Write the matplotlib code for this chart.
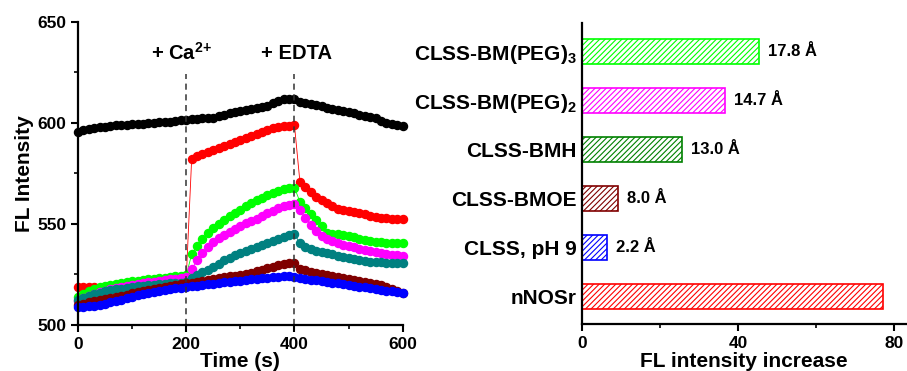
import matplotlib
matplotlib.use("Agg")
import matplotlib.pyplot as plt
from matplotlib.ticker import MultipleLocator

plt.rcParams["font.family"] = ["Liberation Sans", "DejaVu Sans"]
plt.rcParams["font.weight"] = "bold"
plt.rcParams["mathtext.fontset"] = "custom"
plt.rcParams["mathtext.rm"] = "Liberation Sans:bold"
plt.rcParams["mathtext.bf"] = "Liberation Sans:bold"
plt.rcParams["mathtext.default"] = "rm"
plt.rcParams["hatch.linewidth"] = 0.8

# --- time course data (FL intensity, sampled every 10 s) ---
time_s = [0, 10, 20, 30, 40, 50, 60, 70, 80, 90, 100, 110, 120, 130, 140, 150, 160, 170, 180, 190, 200,
          210, 220, 230, 240, 250, 260, 270, 280, 290, 300, 310, 320, 330, 340, 350, 360, 370, 380, 390, 400,
          410, 420, 430, 440, 450, 460, 470, 480, 490, 500, 510, 520, 530, 540, 550, 560, 570, 580, 590, 600]

fl_black = [595.5, 596.5, 597, 597.5, 598, 598.2, 598.5, 598.8, 599, 599.2, 599.3, 599.5, 599.7, 600, 600.1,
            600.3, 600.5, 600.7, 601, 601.2, 601.4,
            601.8, 602, 602.2, 602.3, 602.6, 603.2, 604, 604.8, 605.5, 605.8, 606.2, 606.8, 607.3, 608, 608.6,
            609.8, 611, 611.6, 611.8, 611.6,
            610.5, 609.8, 609.2, 608.8, 608.2, 607.5, 606.8, 606.2, 605.8, 605.5, 604.8, 604, 603.2, 602.8,
            602.5, 601, 599.8, 599.3, 598.8, 598.3]
fl_red = [519, 519, 519, 518.8, 518.5, 518.5, 519, 519.3, 519.6, 520, 520.2, 520.5, 520.8, 521, 521.3, 521.6,
          522, 522.2, 522.5, 522.8, 523,
          582, 583.5, 584.5, 585.5, 586.5, 587.5, 588.5, 589.5, 590.5, 591.5, 592.5, 593.5, 594.5, 595.5, 596.5,
          597.5, 598.2, 598.5, 598.7, 598.8,
          571, 568.5, 566, 563.5, 562, 560.5, 558.8, 557.5, 557, 556.5, 556, 555.5, 554.8, 554, 553.5, 553,
          552.8, 552.6, 552.5, 552.4]
fl_green = [514, 515.5, 516.8, 517.8, 518.6, 519.3, 519.8, 520.3, 520.8, 521.2, 521.6, 522, 522.3, 522.6, 522.9,
            523.2, 523.5, 523.8, 524, 524.2, 524.5,
            535, 539, 542.5, 545.5, 548, 550, 552, 553.8, 555.5, 557, 558.8, 560.3, 561.7, 563, 564.3, 565.3,
            566.3, 567.2, 567.8, 568,
            561, 558, 555, 552, 549, 545.5, 545.2, 545, 544.5, 544, 543.3, 542.7, 542, 541.5, 541.2, 541,
            540.8, 540.6, 540.5, 540.5]
fl_magenta = [512, 513.5, 514.5, 515.5, 516.3, 517, 517.7, 518.3, 518.8, 519.3, 519.8, 520.3, 520.7, 521.1,
              521.5, 521.9, 522.3, 522.7, 523, 523.4, 523.8,
              527.5, 532, 535.5, 538.5, 541, 543, 544.5, 546, 547.5, 549, 550.3, 551.5, 552.7, 554, 555.2,
              556.5, 557.7, 558.8, 559.6, 560,
              557, 553, 549.5, 546.5, 544, 542.5, 541.5, 540.5, 539.7, 539, 538.4, 537.8, 537.2, 536.7, 536.3,
              535.8, 535.3, 534.8, 534.4, 534]
fl_teal = [512.5, 513.5, 514.5, 515.3, 516, 516.6, 517.1, 517.6, 518, 518.4, 518.8, 519.1, 519.4, 519.7, 520,
           520.2, 520.4, 520.6, 520.8, 521, 521.2,
           523.5, 524.8, 526, 527.3, 528.6, 530.2, 532, 533.3, 534.5, 535.8, 536.8, 537.8, 538.7, 539.6, 540.5,
           541.5, 542.5, 543.5, 544.3, 545,
           540.5, 538.5, 537.5, 536.8, 536, 535.5, 535, 534.2, 533.5, 533, 532.5, 532, 531.7, 531.4, 531.2, 531,
           530.9, 530.8, 530.7, 530.6]
fl_maroon = [510, 510.5, 511.2, 511.8, 512.3, 512.7, 513.3, 513.9, 514.5, 515, 515.6, 516.1, 516.6, 517.1,
             517.6, 518.1, 518.6, 519.1, 519.6, 520.1, 520.6,
             521, 521.5, 522, 522.5, 523, 523.3, 523.6, 524, 524.4, 524.8, 525.3, 525.9, 526.5, 527.2, 528,
             528.8, 529.6, 530.3, 530.6, 530.5,
             527.6, 527, 526.3, 525.6, 525, 524.6, 524.2, 523.7, 523.2, 522.8, 522.3, 521.8, 521.3, 520.8,
             520.2, 519.7, 519, 518, 517, 516]
fl_blue = [508.8, 509, 509.3, 509.6, 510, 510.5, 511.2, 511.9, 512.6, 513.3, 514, 514.7, 515.3, 515.9, 516.4,
           516.9, 517.3, 517.7, 518.1, 518.5, 518.8,
           519.2, 519.5, 519.8, 520.1, 520.5, 520.8, 521.1, 521.4, 521.7, 522, 522.3, 522.6, 522.9, 523.2,
           523.5, 523.7, 523.9, 524, 524, 523.9,
           523.2, 522.8, 522.5, 522.1, 521.8, 521.4, 521, 520.6, 520.2, 519.8, 519.4, 519, 518.6, 518.2, 517.8,
           517.4, 517, 516.6, 516.2, 515.8]

# --- bar data ---
constructs = ["nNOSr", "CLSS, pH 9", "CLSS-BMOE", "CLSS-BMH",
              r"CLSS-BM(PEG)$_{\mathrm{2}}$", r"CLSS-BM(PEG)$_{\mathrm{3}}$"]
fl_increase = [77.2, 6.3, 9.2, 25.6, 36.7, 45.4]
crosslink_len = [None, "2.2 Å", "8.0 Å", "13.0 Å", "14.7 Å", "17.8 Å"]
bar_colors = ["#ff0000", "#0000ff", "#800000", "#008000", "#ff00ff", "#00ff00"]

fig = plt.figure(figsize=(9.07, 3.71), dpi=100)

# ---------- left panel: time course ----------
ax1 = fig.add_axes([0.086, 0.124, 0.358, 0.817])
series = [(fl_black, "black"), (fl_red, "#ff0000"), (fl_green, "#00ff00"), (fl_magenta, "#ff00ff"),
          (fl_teal, "#008080"), (fl_maroon, "#800000"), (fl_blue, "#0000ff")]
for vals, col in series:
    ax1.plot(time_s, vals, color=col, lw=0.6, marker="o", ms=5.8, mec=col, mfc=col, clip_on=False)

for xv in (200, 400):
    ax1.plot([xv, xv], [500, 624], ls=(0, (4, 3)), color="#333333", lw=1.1)
ax1.text(192, 634.5, r"+ Ca$^{2{+}}$", ha="center", va="center", fontsize=14.5, fontweight="bold")
ax1.text(404, 634.5, "+ EDTA", ha="center", va="center", fontsize=14.5, fontweight="bold")

ax1.set_xlim(0, 600)
ax1.set_ylim(500, 650)
ax1.xaxis.set_major_locator(MultipleLocator(200))
ax1.xaxis.set_minor_locator(MultipleLocator(100))
ax1.yaxis.set_major_locator(MultipleLocator(50))
ax1.yaxis.set_minor_locator(MultipleLocator(25))
ax1.set_xlabel("Time (s)", fontsize=15, fontweight="bold", labelpad=0)
ax1.set_ylabel("FL Intensity", fontsize=15, fontweight="bold", labelpad=2)

# ---------- right panel: bars ----------
ax2 = fig.add_axes([0.642, 0.127, 0.357, 0.811])
ypos = list(range(len(constructs)))
ax2.barh(ypos, fl_increase, height=0.51, color="white", edgecolor=bar_colors,
         hatch="//////", linewidth=1.2)
for y, v, lab in zip(ypos, fl_increase, crosslink_len):
    if lab:
        ax2.text(v + 2.3, y, lab, va="center", ha="left", fontsize=12, fontweight="bold")
ax2.set_yticks(ypos)
ax2.set_yticklabels(constructs, fontsize=15, fontweight="bold")
ax2.set_ylim(-0.55, 5.59)
ax2.set_xlim(0, 83)
ax2.xaxis.set_major_locator(MultipleLocator(40))
ax2.xaxis.set_minor_locator(MultipleLocator(20))
ax2.set_xlabel("FL intensity increase", fontsize=15, fontweight="bold", labelpad=1)

for ax in (ax1, ax2):
    ax.spines["top"].set_visible(False)
    ax.spines["right"].set_visible(False)
    ax.spines["left"].set_linewidth(1.6)
    ax.spines["bottom"].set_linewidth(1.6)
    ax.tick_params(which="major", direction="out", length=5, width=1.5, labelsize=12.5)
    ax.tick_params(which="minor", direction="out", length=3, width=1.2)
    for t in ax.get_xticklabels() + ax.get_yticklabels():
        t.set_fontweight("bold")
ax2.tick_params(axis="y", which="both", length=0, pad=4)
ax2.tick_params(axis="y", labelsize=15)

fig.savefig("out.png", dpi=100)
